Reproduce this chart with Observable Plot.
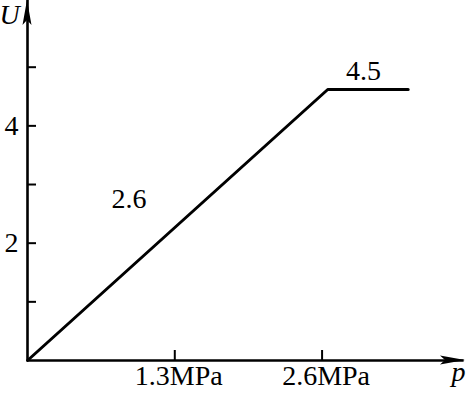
<!DOCTYPE html>
<html>
<head>
<meta charset="utf-8">
<script src="https://cdn.jsdelivr.net/npm/d3@7"></script>
<script src="https://cdn.jsdelivr.net/npm/@observablehq/plot@0.6"></script>
<style>
  html, body { margin: 0; padding: 0; background: #fff; }
  svg { display: block; }
</style>
</head>
<body>
<div id="chart"></div>
<script>
// Data
const pressure = [0, 2.65, 3.36];      // p (MPa)
const voltage  = [0, 4.62, 4.62];      // U
const yTicks = [1, 2, 3, 4, 5];
const yLabels = [2, 4];
const xTicks = [1.3, 2.6];
const xTickLabels = ["1.3MPa", "2.6MPa"];
const segLabels = ["2.6", "4.5"];
const segLabelP = [0.896, 2.966];
const segLabelU = [2.76, 4.93];

const line = pressure.map((p, i) => ({p, u: voltage[i]}));
const segs = segLabels.map((t, i) => ({t, p: segLabelP[i], u: segLabelU[i]}));

const W = 467, H = 397;
const font = "Liberation Serif, Times New Roman, serif";

function arrowHeads(index, scales, values, dim) {
  const x0 = scales.x(0), y0 = scales.y(0);
  const g = d3.create("svg:g");
  // y-axis arrow (up)
  g.append("path")
    .attr("d", `M${x0},${dim.marginTop}L${x0 + 4.5},${dim.marginTop + 25}L${x0},${dim.marginTop + 20}L${x0 - 4.5},${dim.marginTop + 25}Z`)
    .attr("fill", "black");
  // x-axis arrow (right)
  const xr = dim.width - dim.marginRight - 2;
  g.append("path")
    .attr("d", `M${xr},${y0}L${xr - 25},${y0 - 4.5}L${xr - 20},${y0}L${xr - 25},${y0 + 4.5}Z`)
    .attr("fill", "black");
  return g.node();
}

const chart = Plot.plot({
  width: W,
  height: H,
  marginLeft: 27,
  marginRight: 0,
  marginTop: 0,
  marginBottom: 37,
  style: {fontFamily: font, fontSize: "28px", color: "black", background: "white"},
  x: {domain: [0, 440 / 113.3]},
  y: {domain: [0, 360 / 58.66]},
  marks: [
    Plot.ruleX([0], {stroke: "black", strokeWidth: 2.6}),
    Plot.ruleY([0], {stroke: "black", strokeWidth: 2.6, x1: 0, x2: 440 / 113.3 - 0.03}),
    Plot.axisY({ticks: yTicks, tickSize: -9, tickFormat: () => "", strokeWidth: 2, label: null}),
    Plot.axisY({ticks: yLabels, tickSize: 0, tickPadding: 9, fontSize: 28, label: null, tickFormat: d3.format("d")}),
    Plot.axisX({ticks: xTicks, tickSize: -10, tickFormat: () => "", strokeWidth: 2, label: null}),
    Plot.axisX({ticks: xTicks, tickSize: 0, tickPadding: 5, dx: 4, fontSize: 28, label: null,
      tickFormat: (d) => xTickLabels[xTicks.indexOf(d)]}),
    Plot.line(line, {x: "p", y: "u", stroke: "black", strokeWidth: 3, strokeLinejoin: "miter"}),
    Plot.text(segs, {x: "p", y: "u", text: "t", fontSize: 28, fill: "black"}),
    Plot.text(["U"], {frameAnchor: "top-left", dx: -28, dy: 15, lineAnchor: "middle", textAnchor: "start", fontSize: 28, fontStyle: "italic", fill: "black"}),
    Plot.text(["p"], {frameAnchor: "bottom-right", dx: -2, dy: 20, fontSize: 28, fontStyle: "italic", fill: "black"}),
    arrowHeads
  ]
});
document.getElementById("chart").appendChild(chart);
</script>
</body>
</html>
